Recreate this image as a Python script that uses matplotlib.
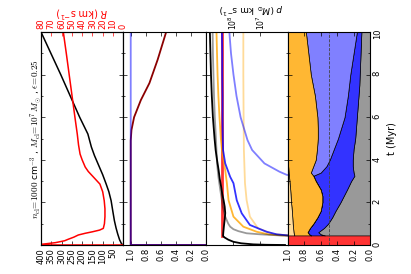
import numpy as np
import matplotlib
matplotlib.use("Agg")
import matplotlib.pyplot as plt
from matplotlib.ticker import MultipleLocator, FixedLocator, FixedFormatter, FormatStrFormatter

# ------------------------------------------------------------------ data
# Panel 1: shell radius (black, left axis) and expansion velocity (red, right axis)
t_radius = [0, 0.05, 0.25, 0.52, 0.8, 1.14, 1.6, 2.08, 2.5, 2.86, 3.3, 3.66, 4.2, 4.6, 5.21, 6, 7, 8, 9, 10]
radius = [0, 8, 18, 27, 35, 43, 51, 59, 70, 83, 100, 116, 140, 155, 172, 212, 258, 304, 352, 400]
t_vel = [0, 0.005, 0.03, 0.11, 0.2, 0.27, 0.37, 0.47, 0.55, 0.62, 0.7, 0.78, 1.0, 1.33, 1.7, 2.08,
         2.5, 2.86, 3.19, 3.45, 3.66, 4.0, 4.27, 4.7, 5.2, 6, 7, 8, 9, 10]
vel = [0, 300, 80, 66, 57, 53.5, 48, 43.7, 37, 30, 23, 19.4, 18.3, 17.8, 17.8, 18.5,
       20, 22.7, 29, 34, 37, 40, 42, 43.5, 44.7, 47, 49.8, 52.6, 55.4, 58.3]

# Panel 2: fractions
t_frac_a = [0, 0.001, 10]
frac_a = [0, 1.0, 1.0]
t_frac_b = [0, 0.001, 4.5, 4.9, 5.4, 6.0, 6.8, 7.6, 8.7, 10]
frac_b = [0, 1.0, 1.0, 1.0, 0.99, 0.955, 0.865, 0.75, 0.64, 0.526]

# Panel 3: log10 momentum (Msun km/s)
t_p_total = [0, 0.01, 0.03, 0.08, 0.15, 0.25, 0.35, 0.42, 0.6, 0.86, 1.2, 1.5, 1.8, 2.1, 2.4, 2.74, 3.1,
             3.5, 4.0, 4.46, 5, 6, 7, 8, 9, 10]
logp_total = [6.1, 6.8, 7.26, 7.7, 7.98, 8.17, 8.3, 8.36, 8.35, 8.33, 8.3, 8.28, 8.3, 8.34, 8.39, 8.43, 8.48,
              8.52, 8.58, 8.63, 8.67, 8.73, 8.77, 8.8, 8.82, 8.84]
t_p_gray = [0.42, 0.45, 0.5, 0.55, 0.65, 0.74, 0.86, 1.0, 1.33, 1.8, 2.58, 3.2, 3.83, 4.46, 5, 6, 7, 8, 9, 10]
logp_gray = [5.5, 6.3, 7.0, 7.5, 7.8, 7.98, 8.1, 8.17, 8.28, 8.37, 8.46, 8.53, 8.58, 8.6, 8.62, 8.66, 8.69,
             8.71, 8.73, 8.74]
t_p_orange = [0.42, 0.45, 0.5, 0.62, 0.86, 1.33, 2.1, 2.9, 3.5, 4.46, 5, 6, 7, 8, 9, 10]
logp_orange = [5.5, 6.2, 6.7, 7.13, 7.62, 7.98, 8.16, 8.22, 8.28, 8.4, 8.44, 8.49, 8.53, 8.56, 8.58, 8.6]
t_p_blue = [0.42, 0.45, 0.5, 0.62, 0.94, 1.49, 2.1, 2.9, 3.2, 3.83, 4.46, 5, 6, 7, 8, 9, 10]
logp_blue = [5.5, 6.0, 6.4, 6.77, 7.38, 7.68, 7.86, 7.98, 8.1, 8.28, 8.36, 8.37, 8.38, 8.38, 8.39, 8.39, 8.4]
t_p_peach = [0.42, 0.45, 0.52, 0.78, 1.33, 2.1, 2.9, 4.46, 6, 8, 10]
logp_peach = [5.5, 6.0, 6.53, 7.08, 7.38, 7.5, 7.56, 7.6, 7.61, 7.62, 7.62]
t_p_sn = [3.25, 3.29, 3.44, 3.83, 4.46, 4.93, 6, 7, 8, 9, 10]
logp_sn = [5.5, 6.03, 6.3, 6.85, 7.3, 7.47, 7.72, 7.87, 7.98, 8.07, 8.13]
t_p_red = [0.42, 10]
logp_red = [8.38, 8.38]

# Panel 4: stacked (cumulative) fractions
t_early_end = 0.45
t_stack = [0.45, 0.5, 0.6, 0.8, 1.0, 1.3, 1.6, 2.0, 2.3, 2.6, 3.0, 3.25, 3.4, 3.7, 4.0, 4.5, 5.0, 5.5,
           6.0, 6.5, 7.0, 7.5, 8.0, 8.5, 9.0, 9.5, 10.0]
cum_gray = [0.55, 0.60, 0.63, 0.56, 0.51, 0.46, 0.42, 0.36, 0.32, 0.28, 0.23, 0.19, 0.20, 0.21, 0.21, 0.20,
            0.18, 0.17, 0.16, 0.15, 0.14, 0.13, 0.125, 0.12, 0.115, 0.11, 0.105]
cum_blue = [0.72, 0.74, 0.76, 0.73, 0.69, 0.64, 0.60, 0.58, 0.58, 0.60, 0.66, 0.69, 0.60, 0.53, 0.49, 0.44,
            0.39, 0.35, 0.31, 0.29, 0.27, 0.255, 0.24, 0.22, 0.20, 0.18, 0.16]
cum_sn = [0.72, 0.74, 0.76, 0.73, 0.69, 0.64, 0.60, 0.58, 0.58, 0.60, 0.66, 0.69, 0.72, 0.69, 0.66, 0.645,
          0.635, 0.635, 0.64, 0.655, 0.67, 0.695, 0.72, 0.735, 0.75, 0.765, 0.78]
cum_orange = [0.92, 0.925, 0.93, 0.935, 0.94, 0.945, 0.95, 0.96, 0.965, 0.97, 0.98, 0.985, 0.99, 0.995, 1.0,
              1.0, 1.0, 1.0, 1.0, 1.0, 1.0, 1.0, 1.0, 1.0, 1.0, 1.0, 1.0]

title = r'$n_{\rm cl}\!=\!1000$ cm$^{-3}$ , $M_{\rm cl}\!=\!10^7\,M_{\odot}$ , $\epsilon\!=\!0.25$'

# ------------------------------------------------------------------ figure
W, H = 411, 274
fig = plt.figure(figsize=(W / 100, H / 100), dpi=100)
L, R = 41 / W, 370 / W
B, T = 1 - 245 / H, 1 - 32 / H
w = (R - L) / 4
axes = [fig.add_axes([L + i * w, B, w, T - B]) for i in range(4)]
ax_h_px = 245 - 32

TFS = 6
for i, ax in enumerate(axes):
    ax.set_ylim(0, 10)
    ax.yaxis.set_major_locator(MultipleLocator(2))
    ax.yaxis.set_minor_locator(MultipleLocator(1))
    ax.tick_params(axis='y', which='both', direction='in', left=True, right=True,
                   labelleft=False, labelright=(i == 3), labelrotation=90, labelsize=TFS, pad=2)
    ax.tick_params(axis='y', which='major', length=3, width=0.5)
    ax.tick_params(axis='y', which='minor', length=1.5, width=0.5)
    ax.tick_params(axis='x', which='both', direction='in', labelrotation=90, labelsize=TFS,
                   length=3, width=0.5, pad=2)
    for s in ax.spines.values():
        s.set_linewidth(0.8)

# panel 1
ax0 = axes[0]
ax0.plot(radius, t_radius, color='k', lw=1.1)
ax0.set_xlim(400, 0)
ax0.xaxis.set_major_locator(FixedLocator(np.arange(0, 401, 50)))
ax0.xaxis.set_major_formatter(FixedFormatter([''] + [str(v) for v in range(50, 401, 50)]))
ax0.tick_params(axis='x', top=False)
ax0t = ax0.twiny()
ax0t.plot(vel, t_vel, color='r', lw=1.1)
ax0t.set_xlim(80, 0)
ax0t.set_ylim(0, 10)
ax0t.xaxis.set_major_locator(MultipleLocator(10))
ax0t.tick_params(axis='x', direction='in', labelrotation=90, labelsize=TFS, colors='r',
                 length=3, width=0.5, pad=2)
ax0t.set_xlabel(r'$R$ (km s$^{-1}$)', color='r', rotation=180, fontsize=7)
ax0t.xaxis.set_label_coords(0.5, 1 + (32 - 12) / ax_h_px)
ax0t.xaxis.label.set_va('center')
fig.text(36 / W, 1 - 138.5 / H, title, rotation=90, ha='center', va='center', fontsize=6.6,
         math_fontfamily='cm')

# panel 2
ax1 = axes[1]
ax1.plot(frac_b, t_frac_b, color='#8b0000', lw=1.3)
ax1.plot(frac_a, t_frac_a, color='b', alpha=0.5, lw=1.3)
ax1.set_xlim(1.1, 0)
ax1.xaxis.set_major_locator(FixedLocator(np.arange(0, 1.01, 0.2)))
ax1.xaxis.set_major_formatter(FormatStrFormatter('%.1f'))
ax1.tick_params(axis='x', top=True)

# panel 3
ax2 = axes[2]
ax2.set_xscale('log')
lw3 = 1.3
ax2.plot(10 ** np.array(logp_red), t_p_red, color='r', alpha=0.8, lw=2.0)
ax2.plot(10 ** np.array(logp_peach), t_p_peach, color='orange', alpha=0.4, lw=lw3)
ax2.plot(10 ** np.array(logp_sn), t_p_sn, color='b', alpha=0.5, lw=lw3)
ax2.plot(10 ** np.array(logp_orange), t_p_orange, color='orange', alpha=0.8, lw=lw3)
ax2.plot(10 ** np.array(logp_blue), t_p_blue, color='b', alpha=0.8, lw=lw3)
ax2.plot(10 ** np.array(logp_gray), t_p_gray, color='k', alpha=0.4, lw=lw3)
ax2.plot(10 ** np.array(logp_total), t_p_total, color='k', lw=lw3)
ax2.set_xlim(1e9, 1e6)
ax2.xaxis.set_major_locator(FixedLocator([1e7, 1e8]))
ax2.xaxis.set_minor_locator(FixedLocator([]))
ax2.tick_params(axis='x', which='both', bottom=True, top=True, labelbottom=False, labeltop=True,
                labelsize=5.5, pad=1.5)
ax2.xaxis.set_label_position('top')
ax2.set_xlabel(r'$p$ ($M_{\odot}$ km s$^{-1}$)', rotation=180, fontsize=6.5)
ax2.xaxis.set_label_coords(0.55, 1 + (32 - 8) / ax_h_px)
ax2.xaxis.label.set_va('center')

# panel 4
ax3 = axes[3]
ax3.fill_betweenx([0, t_early_end], 0, 1, facecolor='#ff3333', edgecolor='none')
ax3.fill_betweenx(t_stack, 0, cum_gray, facecolor='#999999', edgecolor='k', lw=0.5)
ax3.fill_betweenx(t_stack, cum_gray, cum_blue, facecolor='#3333ff', edgecolor='k', lw=0.5)
ax3.fill_betweenx(t_stack, cum_blue, cum_sn, facecolor='#8080ff', edgecolor='k', lw=0.5)
ax3.fill_betweenx(t_stack, cum_sn, cum_orange, facecolor='#ffb733', edgecolor='k', lw=0.5)
ax3.fill_betweenx(t_stack, cum_orange, 1, facecolor='#ffdb99', edgecolor='k', lw=0.5)
ax3.axvline(0.5, color='#444444', ls='--', lw=0.6)
ax3.set_xlim(1, 0)
ax3.xaxis.set_major_locator(FixedLocator(np.arange(0, 1.01, 0.2)))
ax3.xaxis.set_major_formatter(FormatStrFormatter('%.1f'))
ax3.tick_params(axis='x', top=True)
ax3.yaxis.set_label_position('right')
ax3.set_ylabel('t (Myr)', rotation=90, fontsize=7, labelpad=4)
for ax in axes:
    ax.set_ylim(0, 10)

fig.savefig('out.png', dpi=100)
